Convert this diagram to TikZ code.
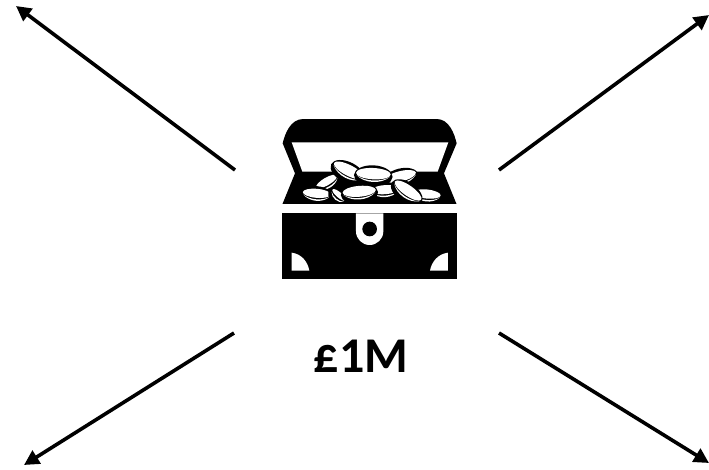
\documentclass[tikz,border=0pt]{standalone}
\usepackage{fontspec}
\setmainfont{Carlito}
\usetikzlibrary{arrows.meta}
\tikzset{
 ray/.style={line width=3.6pt,black,-{Triangle[length=15pt,width=15pt]}}
}
\newcommand{\coinshape}[4]{% x,y,rx,angle
 \begin{scope}[shift={(#1,#2)},rotate=#4]
  \fill[black] (0,3) ellipse (#3+8 and #3*0.36+14);
  \fill[white] (0,-4) ellipse (#3+2 and #3*0.34);
  \fill[white] (-#3,3) .. controls (-#3*.5,#3*.34+10) and (#3*.5,#3*.34+10) .. (#3,3)
     .. controls (#3*.5,#3*.34+4) and (-#3*.5,#3*.34+4) .. cycle;
 \end{scope}}
\begin{document}
\begin{tikzpicture}[x=1pt,y=-1pt]
\useasboundingbox (0,0) rectangle (709,469);
\coordinate (c1) at (235,170); \coordinate (e1) at (16,6);
\coordinate (c2) at (499,170); \coordinate (e2) at (709,15);
\coordinate (c3) at (234,333); \coordinate (e3) at (24,465);
\coordinate (c4) at (499,333); \coordinate (e4) at (709,463);
\draw[ray] (c1) -- (e1);
\draw[ray] (c2) -- (e2);
\draw[ray] (c3) -- (e3);
\draw[ray] (c4) -- (e4);
\node[font=\bfseries,text=black,inner sep=0pt] (lbl) at (361,356) {\fontsize{50}{50}\selectfont £1M};
\begin{scope}[shift={(270,110)},x=0.3333pt,y=-0.3333pt]
 \fill[black] (38,100) .. controls (45,70) and (62,27) .. (100,27) -- (500,27)
   .. controls (537,27) and (553,70) .. (560,100) -- (522,190) -- (560,283) -- (37,283) -- (75,190) -- cycle;
 \fill[white] (65,97) -- (535,97) -- (503,185) -- (97,185) -- cycle;
 \coinshape{392}{203}{46}{14}
 \coinshape{172}{218}{34}{30}
 \coinshape{235}{185}{48}{-27}
 \coinshape{310}{195}{50}{-3}
 \coinshape{140}{254}{40}{-5}
 \coinshape{470}{256}{40}{-6}
 \coinshape{345}{243}{40}{4}
 \coinshape{205}{258}{24}{-40}
 \coinshape{268}{248}{48}{5}
 \coinshape{412}{245}{46}{-35}
 \fill[white] (30,283) rectangle (570,310);
 \fill[black] (37,310) rectangle (560,507);
 \fill[white] (258,310) -- (258,364) arc[start angle=180,end angle=0,radius=41] -- (340,310) -- cycle;
 \fill[black] (299,357) circle (22);
 \fill[white] (65,428) .. controls (95,432) and (113,455) .. (118,482) -- (65,482) -- cycle;
 \fill[white] (534,428) .. controls (504,432) and (485,455) .. (480,482) -- (534,482) -- cycle;
\end{scope}
\end{tikzpicture}
\end{document}
